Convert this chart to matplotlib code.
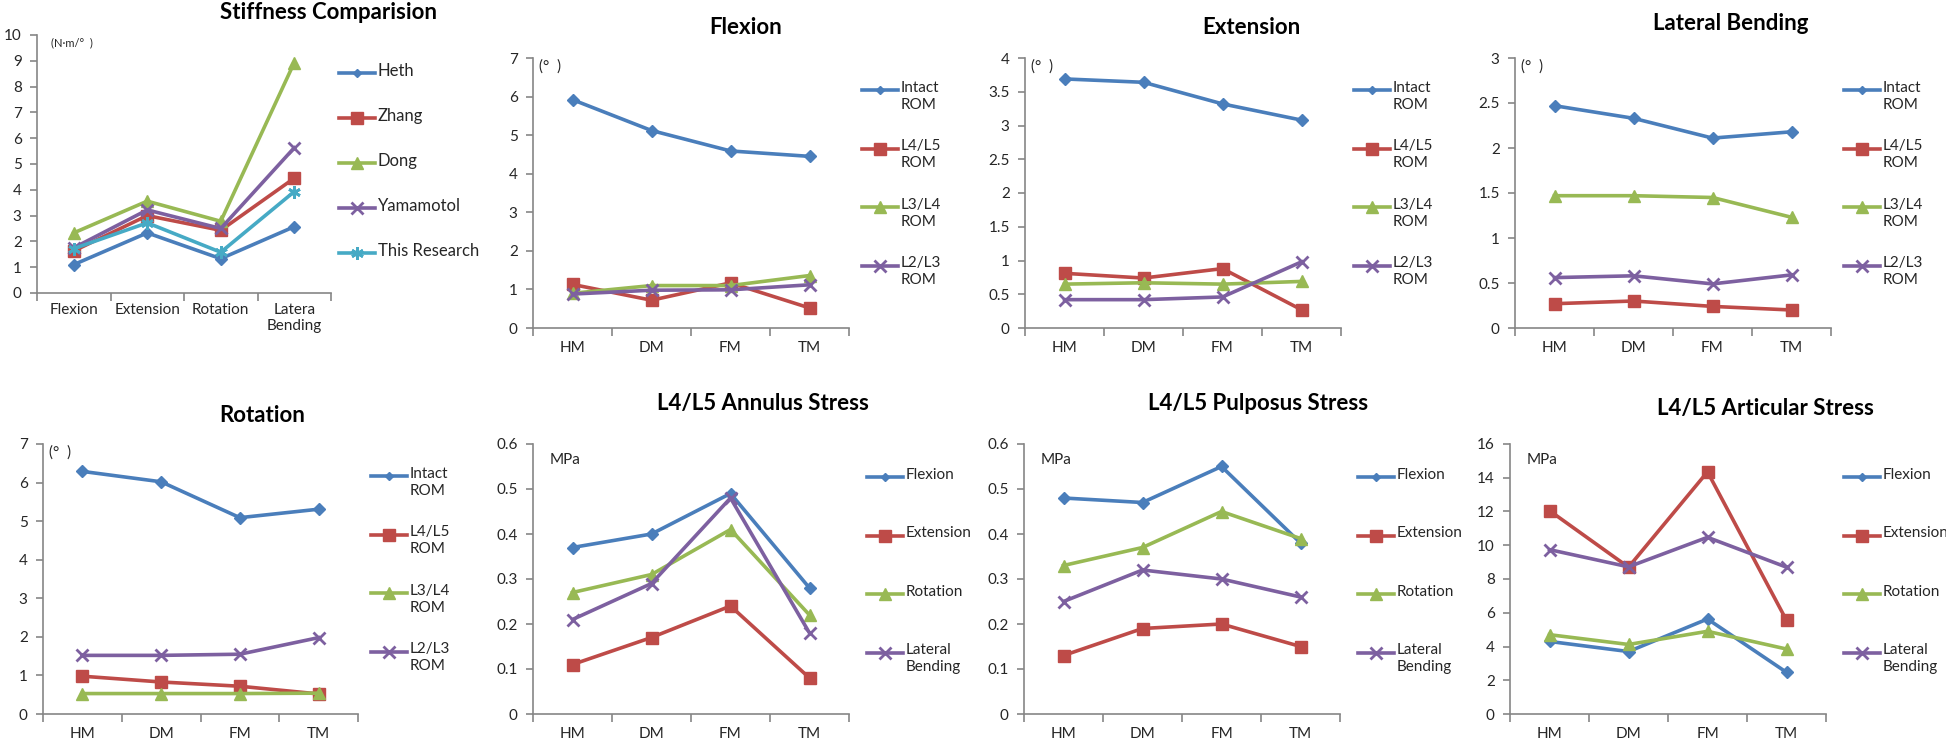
import numpy as np
import matplotlib
matplotlib.use("Agg")
import matplotlib.pyplot as plt
from matplotlib.lines import Line2D
from matplotlib.ticker import FuncFormatter

plt.rcParams['font.family'] = ['Lato', 'DejaVu Sans']

# ---- data ----
stiff_cats = ['Flexion', 'Extension', 'Rotation', 'Latera\nBending']
stiff_names = ['Heth', 'Zhang', 'Dong', 'Yamamotol', 'This Research']
heth = [1.1, 2.33, 1.33, 2.57]
zhang = [1.63, 3.0, 2.43, 4.45]
dong = [2.33, 3.56, 2.78, 8.93]
yamamotol = [1.75, 3.22, 2.5, 5.63]
this_research = [1.72, 2.72, 1.58, 3.93]

models = ['HM', 'DM', 'FM', 'TM']
rom_names = ['Intact\nROM', 'L4/L5\nROM', 'L3/L4\nROM', 'L2/L3\nROM']

flex_intact = [5.92, 5.12, 4.59, 4.45]
flex_l45 = [1.13, 0.72, 1.17, 0.52]
flex_l34 = [0.9, 1.1, 1.1, 1.36]
flex_l23 = [0.88, 0.98, 0.99, 1.12]

ext_intact = [3.69, 3.64, 3.32, 3.08]
ext_l45 = [0.81, 0.74, 0.88, 0.27]
ext_l34 = [0.65, 0.67, 0.65, 0.69]
ext_l23 = [0.42, 0.42, 0.46, 0.98]

lat_intact = [2.47, 2.33, 2.11, 2.18]
lat_l45 = [0.27, 0.3, 0.24, 0.2]
lat_l34 = [1.47, 1.47, 1.45, 1.23]
lat_l23 = [0.56, 0.58, 0.49, 0.59]

rot_intact = [6.29, 6.02, 5.09, 5.31]
rot_l45 = [0.98, 0.83, 0.72, 0.52]
rot_l34 = [0.53, 0.53, 0.53, 0.54]
rot_l23 = [1.52, 1.52, 1.55, 1.98]

load_names = ['Flexion', 'Extension', 'Rotation', 'Lateral\nBending']

ann_flex = [0.37, 0.40, 0.49, 0.28]
ann_ext = [0.11, 0.17, 0.24, 0.08]
ann_rot = [0.27, 0.31, 0.41, 0.22]
ann_lat = [0.21, 0.29, 0.48, 0.18]

pul_flex = [0.48, 0.47, 0.55, 0.38]
pul_ext = [0.13, 0.19, 0.20, 0.15]
pul_rot = [0.33, 0.37, 0.45, 0.39]
pul_lat = [0.25, 0.32, 0.30, 0.26]

art_flex = [4.3, 3.7, 5.63, 2.47]
art_ext = [12.05, 8.7, 14.35, 5.55]
art_rot = [4.7, 4.12, 4.9, 3.85]
art_lat = [9.74, 8.72, 10.47, 8.7]

# ---- style ----
blue = '#4A7EBB'
red = '#BE4B48'
green = '#98B954'
purple = '#7D60A0'
cyan = '#46AAC5'
grey = '#868686'
styles = [(blue, 'D', 6.5), (red, 's', 8), (green, '^', 8.5),
          (purple, 'x', 8), (cyan, (6, 2, 0), 9)]

W, H = 1946, 746
fig = plt.figure(figsize=(W / 100, H / 100), dpi=100)


def add_ax(l, r, t, b):
    return fig.add_axes([l / W, 1 - b / H, (r - l) / W, (b - t) / H])


def setup(ax, cats, ymax, ystep):
    n = len(cats)
    ax.set_xlim(-0.5, n - 0.5)
    ax.set_ylim(0, ymax)
    ax.set_yticks(np.arange(0, ymax + ystep / 2, ystep))
    ax.yaxis.set_major_formatter(FuncFormatter(lambda v, p: f'{v:g}'))
    ax.set_xticks(np.arange(n + 1) - 0.5)
    ax.set_xticklabels([])
    ax.set_xticks(np.arange(n), minor=True)
    ax.set_xticklabels(cats, minor=True)
    ax.tick_params(axis='x', which='major', length=6, color=grey, width=1.2)
    ax.tick_params(axis='x', which='minor', length=0, pad=9,
                   labelsize=11, labelcolor='#262626')
    ax.tick_params(axis='y', length=5, color=grey, width=1.2,
                   labelsize=11, labelcolor='#262626', pad=6)
    for s in ['top', 'right']:
        ax.spines[s].set_visible(False)
    for s in ['left', 'bottom']:
        ax.spines[s].set_color(grey)
        ax.spines[s].set_linewidth(1.2)


def draw_lines(ax, series, labels, lw=2.6):
    out = []
    for i, vals in enumerate(series):
        c, m, ms = styles[i]
        ln, = ax.plot(np.arange(len(vals)), vals, color=c, lw=lw, marker=m,
                      ms=ms, mfc=c, mec=c, mew=2 if m in ('x', (6, 2, 0)) else 1,
                      label=labels[i], clip_on=False, zorder=3)
        out.append(ln)
    return out


def side_legend(ax, lines, labels, dx, dy0, step, hl=36, fs=11):
    bb = ax.get_position()
    aw = bb.width * W
    ah = bb.height * H
    for i, (ln, lab) in enumerate(zip(lines, labels)):
        y = 1 - (dy0 + i * step) / ah
        x0 = 1 + dx / aw
        x1 = 1 + (dx + hl) / aw
        ax.add_line(Line2D([x0, x1], [y, y], transform=ax.transAxes,
                           color=ln.get_color(), lw=ln.get_linewidth(),
                           clip_on=False))
        ms = ln.get_markersize() * (0.7 if ln.get_marker() == 'D' else 1)
        ax.add_line(Line2D([(x0 + x1) / 2], [y], transform=ax.transAxes,
                           marker=ln.get_marker(), ms=ms,
                           mfc=ln.get_color(), mec=ln.get_color(),
                           mew=ln.get_markeredgewidth(), clip_on=False))
        # first text line centred on the handle
        ax.text(x1 + 3 / aw, y + fs * 0.62 / ah * 1.39, lab,
                transform=ax.transAxes, ha='left', va='top', fontsize=fs,
                color='#262626', linespacing=1.3)


def title(ax, text, tx, dy, fs=16):
    ax.annotate(text, xy=(tx, 1), xycoords='axes fraction', xytext=(0, dy),
                textcoords='offset pixels', ha='center', va='center',
                fontsize=fs, fontweight='bold', color='black')


def unit(ax, text, dx, dy, fs=10):
    ax.annotate(text, xy=(0, 1), xycoords='axes fraction', xytext=(dx, -dy),
                textcoords='offset pixels', ha='left', va='center',
                fontsize=fs, color='#262626')


# ---- Stiffness comparision ----
ax = add_ax(37, 331, 35, 293)
setup(ax, stiff_cats, 10, 1)
ls = draw_lines(ax, [heth, zhang, dong, yamamotol, this_research], stiff_names)
ax.tick_params(axis='x', which='minor', pad=7)
side_legend(ax, ls, stiff_names, 8, 38, 45, fs=12)
title(ax, 'Stiffness Comparision', 0.99, 22)
unit(ax, '(N·m/°  )', 14, 8, fs=8)

# ---- ROM panels ----
rom_panels = [
    ((533, 849, 58, 328), 'Flexion', 7, 1, [flex_intact, flex_l45, flex_l34, flex_l23], 0.674, 30),
    ((1025, 1341, 58, 328), 'Extension', 4, 0.5, [ext_intact, ext_l45, ext_l34, ext_l23], 0.715, 30),
    ((1515, 1831, 58, 328), 'Lateral Bending', 3, 0.5, [lat_intact, lat_l45, lat_l34, lat_l23], 0.684, 34),
    ((43, 358, 444, 714), 'Rotation', 7, 1, [rot_intact, rot_l45, rot_l34, rot_l23], 0.695, 28),
]
for box, name, ymax, ystep, series, tx, tdy in rom_panels:
    ax = add_ax(*box)
    setup(ax, models, ymax, ystep)
    ls = draw_lines(ax, series, rom_names)
    side_legend(ax, ls, rom_names, 13, 32, 58.5)
    title(ax, name, tx, tdy)
    unit(ax, '(°  )', 6, 9, fs=11)

# ---- stress panels ----
stress_panels = [
    ((533, 849, 444, 714), 'L4/L5 Annulus Stress', 0.6, 0.1, [ann_flex, ann_ext, ann_rot, ann_lat], 0.728, 40),
    ((1024, 1340, 444, 714), 'L4/L5 Pulposus Stress', 0.6, 0.1, [pul_flex, pul_ext, pul_rot, pul_lat], 0.74, 40),
    ((1510, 1826, 444, 714), 'L4/L5 Articular Stress', 16, 2, [art_flex, art_ext, art_rot, art_lat], 0.807, 35),
]
for box, name, ymax, ystep, series, tx, tdy in stress_panels:
    ax = add_ax(*box)
    setup(ax, models, ymax, ystep)
    ls = draw_lines(ax, series, load_names)
    side_legend(ax, ls, load_names, 18, 33, 58.5)
    title(ax, name, tx, tdy)
    unit(ax, 'MPa', 17, 16, fs=11)

fig.savefig('out.png', dpi=100, facecolor='white')
